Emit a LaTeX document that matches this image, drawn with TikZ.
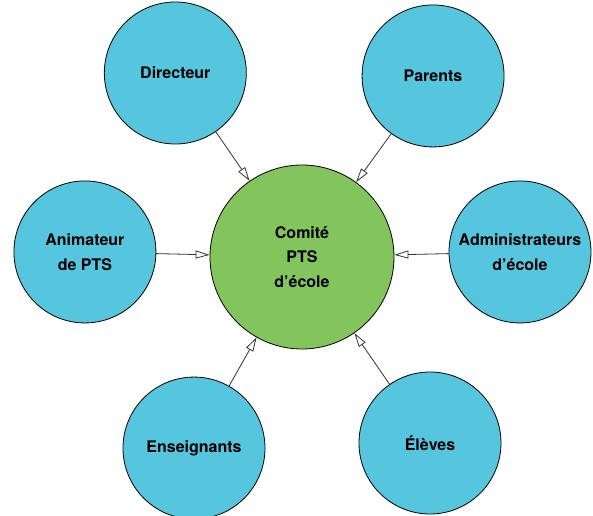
\documentclass[tikz,border=0pt]{standalone}
\usepackage{fontspec}
\setmainfont{TeX Gyre Heros}
\usepackage{xcolor}
\usepackage{tikz}
\usetikzlibrary{positioning}
\usetikzlibrary{arrows.meta}

\definecolor{bleuPTS}{RGB}{86,197,222}
\definecolor{vertPTS}{RGB}{131,196,92}

\begin{document}
\begin{tikzpicture}[-{Triangle[open,length=10.5pt,width=6pt]},draw=black!80,line width=0.6pt,
  on grid,
  membre/.style={circle,draw=black,fill=bleuPTS,minimum size=106.5pt,inner sep=0pt,
    align=center,font=\bfseries\fontsize{12}{18.5}\selectfont},
  comite/.style={membre,fill=vertPTS,minimum size=138pt}]
\useasboundingbox (-226.5pt,-193.5pt) rectangle (218.25pt,192.75pt);

\node[comite]  (C)                                        {Comité\\PTS\\d’école};
\node[membre]  (D) [above left=138pt and 95pt of C]       {Directeur};
\node[membre]  (P) [above right=135.8pt and 98.3pt of C]  {Parents};
\node[membre]  (A) [above left=3.8pt and 162.8pt of C]    {Animateur\\de PTS};
\node[membre]  (S) [above right=3.8pt and 163.5pt of C]   {Administrateurs\\d’école};
\node[membre]  (E) [below left=143.3pt and 81pt of C]     {Enseignants};
\node[membre]  (L) [below right=139.5pt and 96pt of C]    {Élèves};

\path (D) edge (C)
      (P) edge (C)
      (A) edge (C)
      (S) edge (C)
      (E) edge (C)
      (L) edge (C);

\end{tikzpicture}
\end{document}
